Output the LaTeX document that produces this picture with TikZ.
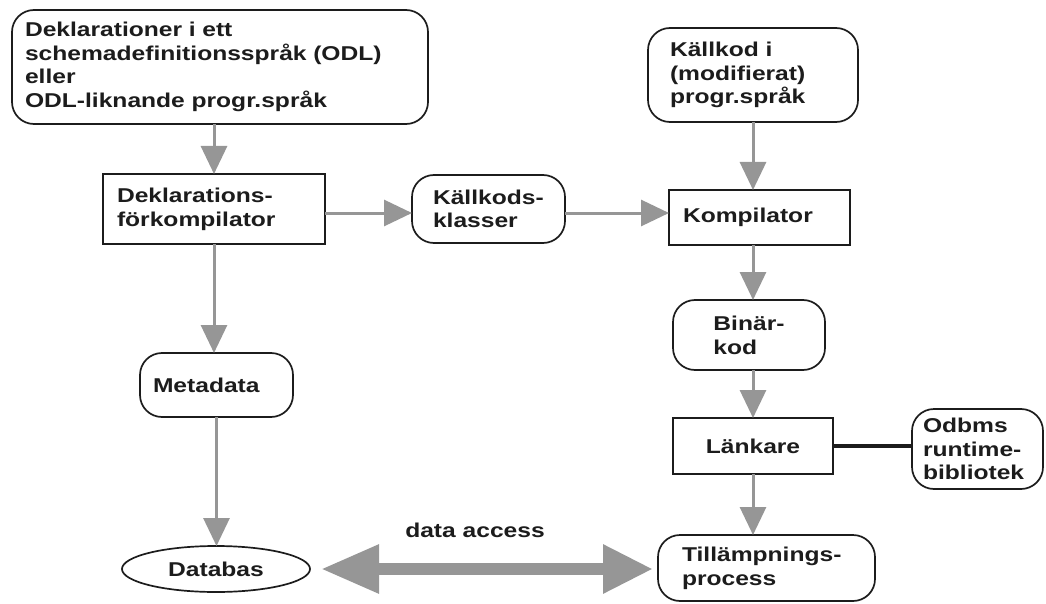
\documentclass[tikz,border=0pt]{standalone}
\usepackage{fontspec}
\newfontfamily\lab{Liberation Sans}[FakeStretch=1.23]
\usetikzlibrary{arrows.meta,shapes.geometric,calc}
\definecolor{arrgray}{RGB}{150,150,150}
\definecolor{ink}{RGB}{28,28,28}
\begin{document}
\begin{tikzpicture}[x=1pt,y=-1pt,
  every node/.style={font=\lab\bfseries\fontsize{20}{23.7}\selectfont, text=ink},
  box/.style={draw=ink, line width=1.7pt, anchor=north west, align=left,
              inner ysep=0pt, outer sep=0pt},
  rbox/.style={box, rounded corners=22pt},
  flow/.style={draw=arrgray, line width=3pt, -{Triangle[length=28pt,width=26pt]}},
  bigflow/.style={draw=arrgray, line width=12pt,
              {Triangle[length=58pt,width=46pt]}-{Triangle[length=50pt,width=46pt]}},
]
\useasboundingbox (0,0) rectangle (1046,604);

% sources
\node[rbox, minimum width=416pt, minimum height=114pt, inner xsep=13pt, text width=390pt]
  (decl) at (12,10) {Deklarationer i ett\\schemadefinitionsspråk (ODL)\\eller\\ODL-liknande progr.språk};
\node[rbox, minimum width=210pt, minimum height=94pt, inner xsep=22pt, text width=166pt]
  (srcR) at (648,28) {Källkod i\\(modifierat)\\progr.språk};

% processing steps
\node[box, minimum width=222pt, minimum height=70pt, inner xsep=14pt, text width=194pt]
  (dekl) at (103,174) {Deklarations-\\förkompilator};
\node[rbox, minimum width=153pt, minimum height=68pt, inner xsep=21pt, text width=111pt]
  (klass) at (412,175) {Källkods-\\klasser};
\node[box, minimum width=181pt, minimum height=55pt, inner xsep=14pt, text width=153pt]
  (komp) at (669,190) {Kompilator};
\node[rbox, minimum width=153pt, minimum height=64pt, inner xsep=13pt, text width=127pt]
  (meta) at (140,353) {Metadata};
\node[rbox, minimum width=152pt, minimum height=70pt]
  (bin) at (673,300) {Binär-\\kod};
\node[box, minimum width=160pt, minimum height=56pt]
  (lank) at (673,418) {Länkare};
\node[rbox, minimum width=131pt, minimum height=80pt, inner xsep=11pt, text width=109pt]
  (odbms) at (912,409) {Odbms\\runtime-\\bibliotek};
\node[rbox, minimum width=217pt, minimum height=66pt, inner xsep=24pt, text width=169pt]
  (till) at (658,535) {Tillämpnings-\\process};
\node[ellipse, draw=ink, line width=1.7pt, minimum width=188pt, minimum height=46pt,
      inner sep=0pt, outer sep=0pt] (db) at (216,569) {Databas};
\node[anchor=base] (da) at (475,537) {data access};

% connectors
\draw[flow] (dekl.north |- decl.south) -- (dekl.north);
\draw[flow] (dekl.south) -- (dekl.south |- meta.north);
\draw[flow] (meta.south) -- (meta.south |- db.north);
\draw[flow] ([yshift=-4pt]dekl.east) -- ([yshift=-4pt]klass.west);
\draw[flow] ([yshift=-4pt]klass.east) -- ([yshift=-4pt]klass.east -| komp.west);
\draw[flow] (srcR.south) -- (srcR.south |- komp.north);
\draw[flow] (lank.north |- komp.south) -- (lank.north |- bin.north);
\draw[flow] (lank.north |- bin.south) -- (lank.north);
\draw[flow] (lank.south) -- (lank.south |- till.north);
\draw[draw=ink, line width=3.5pt] (lank.east) -- (lank.east -| odbms.west);
\draw[bigflow] ([xshift=11pt]db.east) -- ([xshift=-5pt]db.east -| till.west);
\end{tikzpicture}
\end{document}
